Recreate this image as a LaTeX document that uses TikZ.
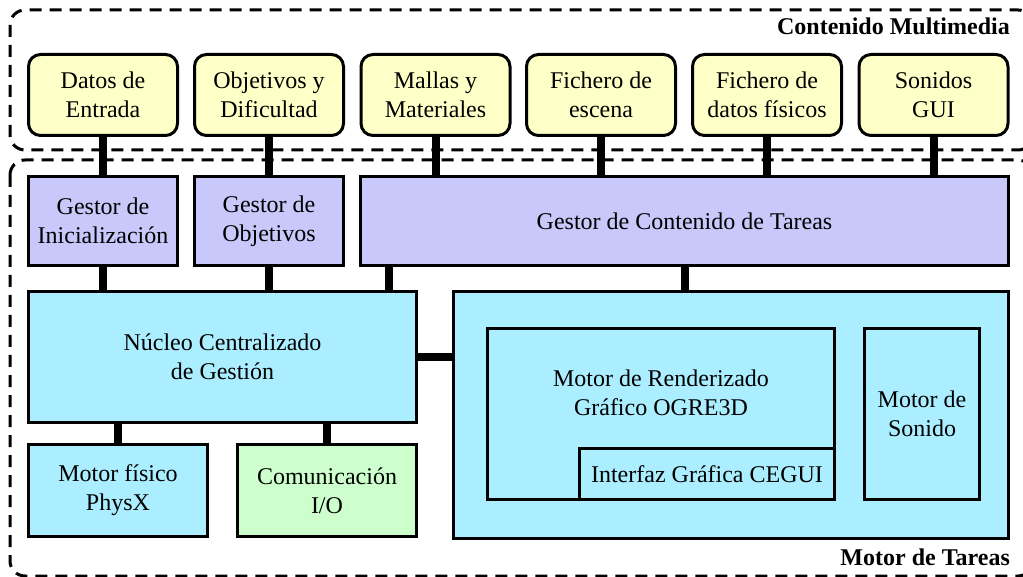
\documentclass[tikz,border=0pt]{standalone}
\usepackage{fontspec}
\setmainfont{Liberation Serif}
\definecolor{cyel}{HTML}{FFFFC8}
\definecolor{cpur}{HTML}{C8C8FA}
\definecolor{ccya}{HTML}{AAEEFF}
\definecolor{cgrn}{HTML}{CCFFCC}
\begin{document}
\begin{tikzpicture}[x=1pt,y=-1pt,
  box/.style={draw=black, line width=3pt, align=center, inner sep=0pt,
    font=\fontsize{24}{29}\selectfont},
  ybox/.style={box, fill=cyel, rounded corners=12pt, minimum width=149pt, minimum height=81pt},
  pbox/.style={box, fill=cpur},
  cbox/.style={box, fill=ccya},
  gbox/.style={box, fill=cgrn},
  txt/.style={align=center, inner sep=0pt, font=\fontsize{24}{29}\selectfont},
  ttl/.style={inner sep=0pt, font=\fontsize{24}{29}\selectfont\bfseries},
  conn/.style={line width=8pt, black},
  region/.style={draw=black, line width=3pt, dash pattern=on 12pt off 8pt, rounded corners=15pt}
]
\useasboundingbox (0,0) rectangle (1023,577);
\begin{scope}
  \clip (0,0) rectangle (1023,577);
  \draw[region] (10,10) rectangle (1033,150);
  \draw[region] (10,160) rectangle (1033,576);
\end{scope}

% titles
\node[ttl, anchor=base east] (tcm) at (1010,35) {Contenido Multimedia};
\node[ttl, anchor=base east] (tmt) at (1010,565) {Motor de Tareas};

% content boxes
\node[ybox] (d1) at (103,95) {Datos de\\Entrada};
\node[ybox] (d2) at (269,95) {Objetivos y\\Dificultad};
\node[ybox] (d3) at (435.5,95) {Mallas y\\Materiales};
\node[ybox] (d4) at (601,95) {Fichero de\\escena};
\node[ybox] (d5) at (767,95) {Fichero de\\datos físicos};
\node[ybox] (d6) at (933.5,95) {Sonidos\\GUI};

% managers
\node[pbox, minimum width=149pt, minimum height=89pt] (gi) at (103,221) {Gestor de\\Inicialización};
\node[pbox, minimum width=149pt, minimum height=89pt] (go) at (269,221) {Gestor de\\Objetivos};
\node[pbox, minimum width=648pt, minimum height=89pt] (gc) at (684.5,221) {Gestor de Contenido de Tareas};

% core
\node[cbox, minimum width=388pt, minimum height=131pt] (nu) at (222.5,357) {Núcleo Centralizado\\de Gestión};
\node[cbox, minimum width=179pt, minimum height=92pt] (px) at (118,490.5) {Motor físico\\PhysX};
\node[gbox, minimum width=179pt, minimum height=92pt] (io) at (327,490.5) {Comunicación\\I/O};

% task engine
\node[cbox, minimum width=555pt, minimum height=247pt] (mt) at (731,415) {};
\node[cbox, minimum width=347pt, minimum height=171pt] (re) at (661,414) {};
\node[txt] (ret) at (661,393) {Motor de Renderizado\\Gráfico OGRE3D};
\node[cbox, minimum width=255pt, minimum height=51pt] (gui) at (707,474) {Interfaz Gráfica CEGUI};
\node[cbox, minimum width=115pt, minimum height=171pt] (so) at (922,414) {Motor de\\Sonido};

% connectors
\draw[conn] (d1.south) -- (gi.north);
\draw[conn] (d2.south) -- (go.north);
\draw[conn] (d3.south) -- (d3.south |- gc.north);
\draw[conn] (d4.south) -- (d4.south |- gc.north);
\draw[conn] (d5.south) -- (d5.south |- gc.north);
\draw[conn] (d6.south) -- (d6.south |- gc.north);
\draw[conn] (gi.south) -- (gi.south |- nu.north);
\draw[conn] (go.south) -- (go.south |- nu.north);
\draw[conn] (gc.south -| 389,0) -- (nu.north -| 389,0);
\draw[conn] (gc.south -| 685,0) -- (mt.north -| 685,0);
\draw[conn] (nu.east) -- (mt.west |- nu.east);
\draw[conn] (px.north) -- (px.north |- nu.south);
\draw[conn] (io.north) -- (io.north |- nu.south);
\end{tikzpicture}
\end{document}
